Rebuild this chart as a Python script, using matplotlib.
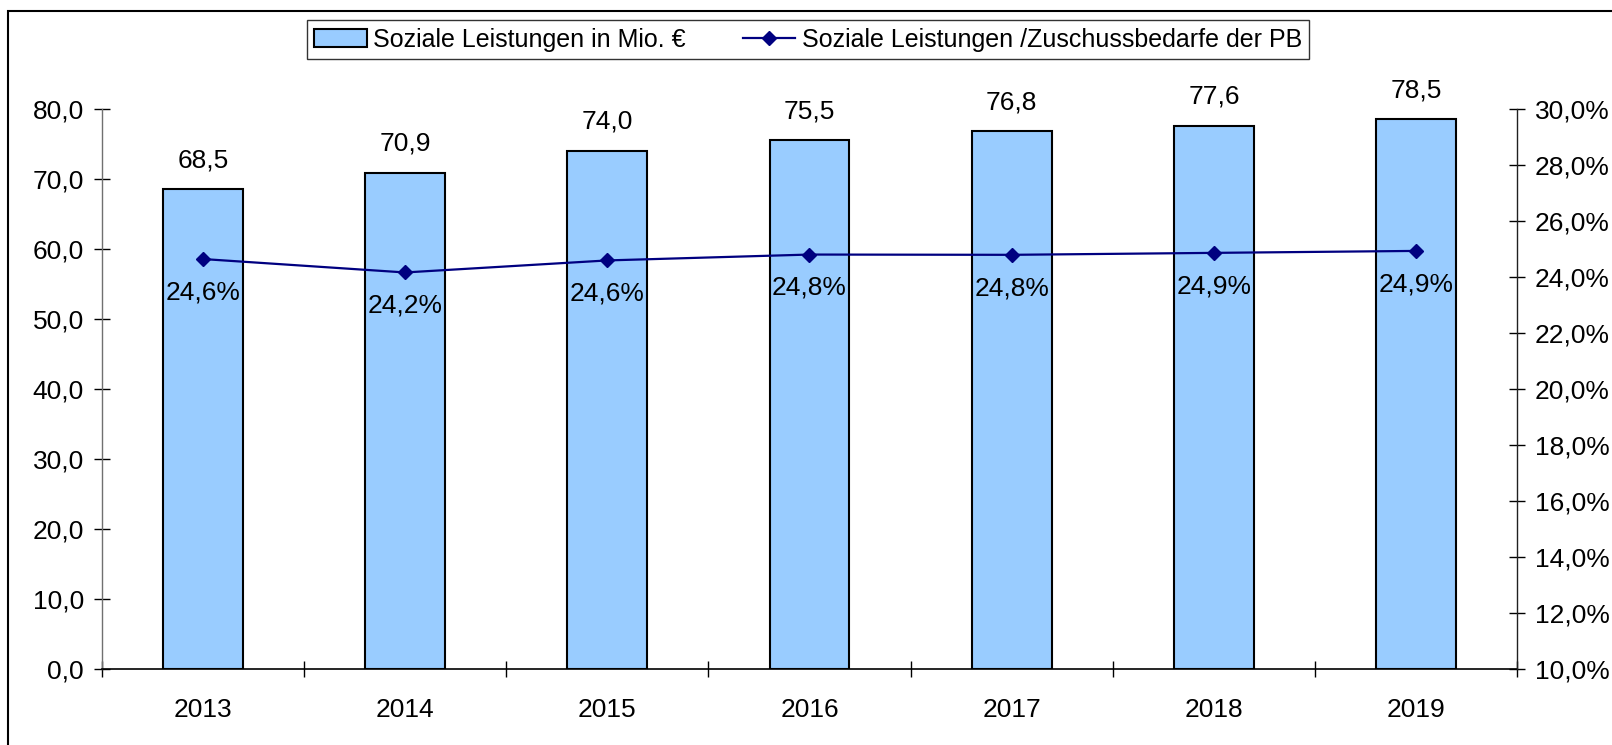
import matplotlib
matplotlib.use("Agg")
import matplotlib.pyplot as plt
from matplotlib.patches import Rectangle
from matplotlib.ticker import FixedLocator, FuncFormatter
import numpy as np

years = ["2013", "2014", "2015", "2016", "2017", "2018", "2019"]
leistungen = [68.5, 70.9, 74.0, 75.5, 76.8, 77.6, 78.5]
anteil = [24.64, 24.16, 24.59, 24.80, 24.79, 24.86, 24.93]
label_bar = "Soziale Leistungen in Mio. €"
label_line = "Soziale Leistungen /Zuschussbedarfe der PB"

plt.rcParams['font.family'] = ['Liberation Sans', 'DejaVu Sans']
FS = 19

W, H = 1612, 745
fig = plt.figure(figsize=(W / 100, H / 100), dpi=100)
left, right, bottom, top = 101.7, 1517.3, 668.8, 109.0
ax = fig.add_axes([left / W, 1 - bottom / H, (right - left) / W, (bottom - top) / H])
ax2 = ax.twinx()

x = np.arange(len(years))
bars = ax.bar(x, leistungen, width=0.395, color="#99CCFF", edgecolor="black",
              linewidth=1.5, label=label_bar, zorder=2)
ax.set_xlim(-0.5, len(years) - 0.5)
ax.set_ylim(0, 80)
ax.set_yticks(np.arange(0, 81, 10))
ax.yaxis.set_major_formatter(FuncFormatter(lambda v, p: f"{v:.1f}".replace(".", ",")))
ax.set_xticks(x)
ax.set_xticklabels(years)
ax.xaxis.set_minor_locator(FixedLocator(np.arange(-0.5, len(years), 1.0)))
ax.tick_params(axis="x", which="major", length=0, pad=21, labelsize=FS)
ax.tick_params(axis="x", which="minor", direction="inout", length=11.5, width=1.0)
ax.tick_params(axis="y", direction="inout", length=11.5, width=1.0, pad=7, labelsize=FS)

for v, xi in zip(leistungen, x):
    ax.annotate(f"{v:.1f}".replace(".", ","), (xi, v), xytext=(0, 21),
                textcoords="offset points", ha="center", va="center", fontsize=FS)

line, = ax2.plot(x, anteil, color="#000080", linewidth=1.6, marker="D",
                 markersize=6.8, label=label_line, zorder=3)
ax2.set_ylim(10, 30)
ax2.set_yticks(np.arange(10, 31, 2))
ax2.yaxis.set_major_formatter(FuncFormatter(lambda v, p: f"{v:.1f}".replace(".", ",") + "%"))
ax2.tick_params(axis="y", direction="inout", length=11.5, width=1.0, pad=7, labelsize=FS)

for v, xi in zip(anteil, x):
    ax2.annotate(f"{v:.1f}".replace(".", ",") + "%", (xi, v), xytext=(0, -24),
                 textcoords="offset points", ha="center", va="center", fontsize=FS)

for a in (ax, ax2):
    a.spines["top"].set_visible(False)
ax2.spines["left"].set_visible(False)
ax2.spines["bottom"].set_visible(False)
ax.spines["right"].set_visible(False)
ax.spines["left"].set_color("#707070")
ax.spines["left"].set_linewidth(1.0)
ax.spines["bottom"].set_linewidth(1.2)
ax2.spines["right"].set_linewidth(1.0)
ax2.spines["right"].set_color("#202020")

leg = fig.legend([bars, line], [label_bar, label_line], ncol=2, loc="center",
                 bbox_to_anchor=(808 / W, 1 - 39.5 / H), fontsize=18, frameon=True,
                 fancybox=False, edgecolor="black", handlelength=2.1,
                 columnspacing=2.3, handletextpad=0.25, borderpad=0.3)
leg.get_frame().set_linewidth(1.0)

border = Rectangle((8 / W, -0.2), 1.2, 1 - 11 / H + 0.2, transform=fig.transFigure,
                   fill=False, edgecolor="black", linewidth=1.5)
fig.patches.append(border)

fig.savefig("out.png", dpi=100)
